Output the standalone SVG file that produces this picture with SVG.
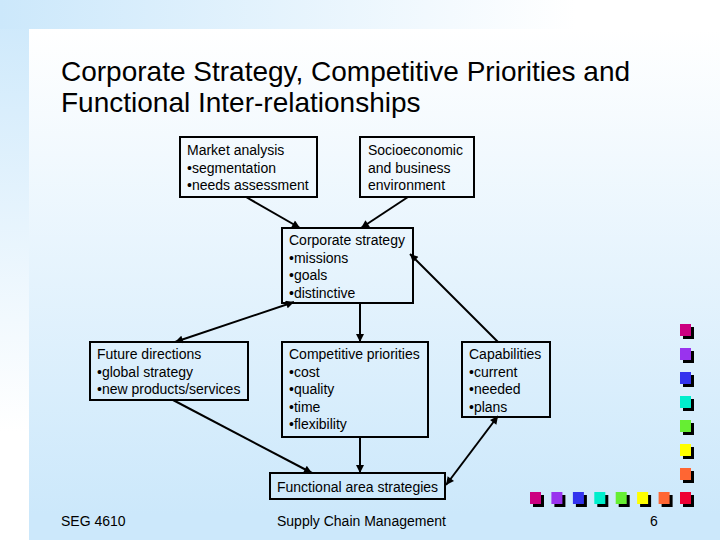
<svg xmlns="http://www.w3.org/2000/svg" width="720" height="540" viewBox="0 0 720 540">
<defs>
<linearGradient id="gMain" x1="0" y1="0" x2="0" y2="1">
<stop offset="0" stop-color="#ffffff"/>
<stop offset="0.95" stop-color="#cce8fb"/>
<stop offset="1" stop-color="#cce8fb"/>
</linearGradient>
<linearGradient id="gLeft" x1="0" y1="0" x2="0" y2="1">
<stop offset="0" stop-color="#cce8fb"/>
<stop offset="0.8" stop-color="#ffffff"/>
</linearGradient>
<linearGradient id="gTop" x1="0" y1="0" x2="1" y2="0">
<stop offset="0" stop-color="#cce8fb"/>
<stop offset="0.8" stop-color="#ffffff"/>
</linearGradient>
<marker id="ah" viewBox="0 0 10 10" refX="10" refY="5" markerWidth="9" markerHeight="8" markerUnits="userSpaceOnUse" orient="auto-start-reverse">
<path d="M0,0 L10,5 L0,10 Z" fill="#000"/>
</marker>
</defs>
<style>
.box{fill:none;stroke:#000;stroke-width:2}
.t{font-family:"Liberation Sans",Arial,sans-serif;font-size:14px;fill:#000}
.title{font-family:"Liberation Sans",Arial,sans-serif;font-size:28px;fill:#000}
.c{stroke:#000;stroke-width:2;fill:none;marker-end:url(#ah)}
.d{marker-start:url(#ah)}
.sh{fill:#000}
</style>
<rect x="0" y="0" width="720" height="540" fill="#ffffff"/>
<rect x="0" y="0" width="29" height="540" fill="url(#gLeft)"/>
<rect x="0" y="0" width="720" height="29" fill="url(#gTop)"/>
<rect x="29" y="29" width="691" height="511" fill="url(#gMain)"/>
<text class="title" x="61" y="81">Corporate Strategy, Competitive Priorities and</text>
<text class="title" x="61" y="112">Functional Inter-relationships</text>
<g id="connectors">
<line class="c" x1="246" y1="197" x2="300" y2="228"/>
<line class="c" x1="408" y1="197" x2="361" y2="228"/>
<line class="c" x1="498" y1="342" x2="410" y2="254"/>
<line class="c d" x1="294" y1="302" x2="175" y2="342"/>
<line class="c" x1="360" y1="303" x2="360" y2="342"/>
<line class="c" x1="173" y1="400" x2="312" y2="473"/>
<line class="c" x1="360" y1="437" x2="360" y2="473"/>
<line class="c d" x1="498" y1="416" x2="446" y2="485"/>
</g>
<g id="market">
<rect class="box" x="180" y="137" width="137" height="60"/>
<text class="t" x="187" y="155">Market analysis</text>
<text class="t" x="187" y="173">•segmentation</text>
<text class="t" x="187" y="190">•needs assessment</text>
</g>
<g id="socio">
<rect class="box" x="360" y="137" width="114" height="60"/>
<text class="t" x="368" y="155">Socioeconomic</text>
<text class="t" x="368" y="173">and business</text>
<text class="t" x="368" y="190">environment</text>
</g>
<g id="corporate">
<rect class="box" x="282" y="228" width="131" height="75"/>
<text class="t" x="289" y="245">Corporate strategy</text>
<text class="t" x="289" y="263">•missions</text>
<text class="t" x="289" y="280">•goals</text>
<text class="t" x="289" y="298">•distinctive</text>
</g>
<g id="future">
<rect class="box" x="90" y="342" width="158" height="58"/>
<text class="t" x="97" y="359">Future directions</text>
<text class="t" x="97" y="377">•global strategy</text>
<text class="t" x="97" y="394">•new products/services</text>
</g>
<g id="competitive">
<rect class="box" x="282" y="342" width="146" height="95"/>
<text class="t" x="289" y="359">Competitive priorities</text>
<text class="t" x="289" y="377">•cost</text>
<text class="t" x="289" y="394">•quality</text>
<text class="t" x="289" y="412">•time</text>
<text class="t" x="289" y="429">•flexibility</text>
</g>
<g id="capabilities">
<rect class="box" x="462" y="342" width="88" height="75"/>
<text class="t" x="469" y="359">Capabilities</text>
<text class="t" x="469" y="377">•current</text>
<text class="t" x="469" y="394">•needed</text>
<text class="t" x="469" y="412">•plans</text>
</g>
<g id="functional">
<rect class="box" x="270" y="473" width="175" height="26"/>
<text class="t" x="277" y="492">Functional area strategies</text>
</g>
<g id="decor">
<rect class="sh" x="683" y="327" width="11" height="12"/><rect x="680" y="324" width="11" height="12" fill="#cc0080"/>
<rect class="sh" x="683" y="351" width="11" height="12"/><rect x="680" y="348" width="11" height="12" fill="#9933ee"/>
<rect class="sh" x="683" y="375" width="11" height="12"/><rect x="680" y="372" width="11" height="12" fill="#3333ee"/>
<rect class="sh" x="683" y="399" width="11" height="12"/><rect x="680" y="396" width="11" height="12" fill="#00eecc"/>
<rect class="sh" x="683" y="423" width="11" height="12"/><rect x="680" y="420" width="11" height="12" fill="#66ee33"/>
<rect class="sh" x="683" y="447" width="11" height="12"/><rect x="680" y="444" width="11" height="12" fill="#ffff00"/>
<rect class="sh" x="683" y="471" width="11" height="12"/><rect x="680" y="468" width="11" height="12" fill="#ff6633"/>
<rect class="sh" x="683" y="495" width="11" height="12"/><rect x="680" y="492" width="11" height="12" fill="#ee0033"/>
<rect class="sh" x="533" y="495" width="11" height="12"/><rect x="530" y="492" width="11" height="12" fill="#cc0080"/>
<rect class="sh" x="554.4" y="495" width="11" height="12"/><rect x="551.4" y="492" width="11" height="12" fill="#9933ee"/>
<rect class="sh" x="575.9" y="495" width="11" height="12"/><rect x="572.9" y="492" width="11" height="12" fill="#3333ee"/>
<rect class="sh" x="597.3" y="495" width="11" height="12"/><rect x="594.3" y="492" width="11" height="12" fill="#00eecc"/>
<rect class="sh" x="618.7" y="495" width="11" height="12"/><rect x="615.7" y="492" width="11" height="12" fill="#66ee33"/>
<rect class="sh" x="640.1" y="495" width="11" height="12"/><rect x="637.1" y="492" width="11" height="12" fill="#ffff00"/>
<rect class="sh" x="661.6" y="495" width="11" height="12"/><rect x="658.6" y="492" width="11" height="12" fill="#ff6633"/>
</g>
<text class="t" x="61" y="526">SEG 4610</text>
<text class="t" x="277" y="526">Supply Chain Management</text>
<text class="t" x="650" y="526">6</text>
</svg>
